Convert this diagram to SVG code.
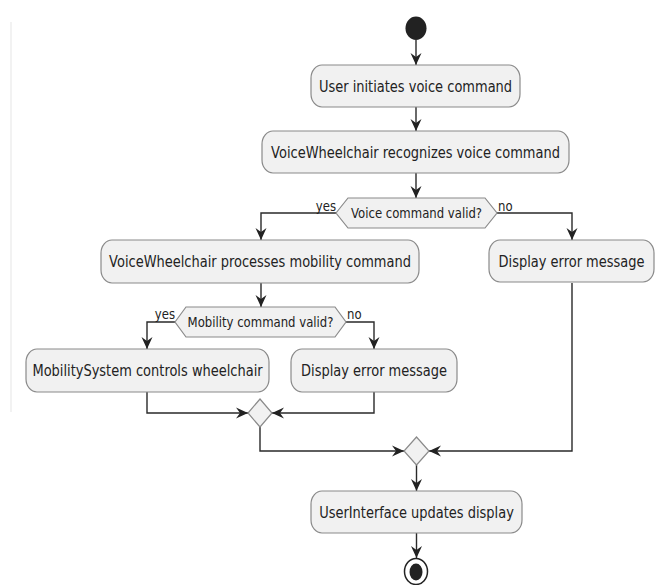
<svg xmlns="http://www.w3.org/2000/svg" width="663" height="585" viewBox="0 0 663 585">
<defs>
<style>
.box{fill:#f1f1f1;stroke:#8a8a8a;stroke-width:1.2}
.dia{fill:#f1f1f1;stroke:#8a8a8a;stroke-width:1.2}
.ln{fill:none;stroke:#2a2a2a;stroke-width:1.4}
.t{font-family:"DejaVu Sans","Liberation Sans",sans-serif;font-size:13px;fill:#222;text-anchor:middle}
.td{font-family:"DejaVu Sans","Liberation Sans",sans-serif;font-size:11.7px;fill:#222;text-anchor:middle}
.lab{font-family:"DejaVu Sans","Liberation Sans",sans-serif;font-size:11.7px;fill:#222}
</style>
<marker id="ah" markerUnits="userSpaceOnUse" markerWidth="14" markerHeight="14" viewBox="-13 -7 14 14" refX="0" refY="0" orient="auto">
<path d="M0,0 L-12,-5.5 L-8,0 L-12,5.5 Z" fill="#222"/>
</marker>
</defs>
<rect width="663" height="585" fill="#fff"/>
<line x1="11" y1="22" x2="11" y2="412" stroke="#f2f2f2" stroke-width="2"/>

<g id="connectors">
<path class="ln" d="M416,40 V65" marker-end="url(#ah)"/>
<path class="ln" d="M416,107 V131" marker-end="url(#ah)"/>
<path class="ln" d="M416,173 V198" marker-end="url(#ah)"/>
<path class="ln" d="M336,213 H261 V240" marker-end="url(#ah)"/>
<path class="ln" d="M497,213 H572 V240" marker-end="url(#ah)"/>
<path class="ln" d="M261,283 V307" marker-end="url(#ah)"/>
<path class="ln" d="M175,322 H147 V349" marker-end="url(#ah)"/>
<path class="ln" d="M346,322 H374 V349" marker-end="url(#ah)"/>
<path class="ln" d="M147,392 V413 H248" marker-end="url(#ah)"/>
<path class="ln" d="M374,392 V413 H272" marker-end="url(#ah)"/>
<path class="ln" d="M260,427 V451 H404" marker-end="url(#ah)"/>
<path class="ln" d="M572,283 V451 H429" marker-end="url(#ah)"/>
<path class="ln" d="M416.5,465 V491" marker-end="url(#ah)"/>
<path class="ln" d="M416.5,533 V558" marker-end="url(#ah)"/>
</g>

<g id="start"><ellipse cx="416" cy="28.3" rx="10.5" ry="11.7" fill="#222"/></g>

<g id="n1">
<rect class="box" x="311" y="65" width="209" height="42" rx="11" ry="13"/>
<text class="t" transform="translate(415.5 86) scale(1 1.2)" y="4.6">User initiates voice command</text>
</g>
<g id="n2">
<rect class="box" x="262" y="131" width="307" height="42" rx="11" ry="13"/>
<text class="t" transform="translate(415.5 152) scale(1 1.2)" y="4.6">VoiceWheelchair recognizes voice command</text>
</g>
<g id="d1">
<polygon class="dia" points="336,213 348,198 485,198 497,213 485,228 348,228"/>
<text class="td" transform="translate(416.5 213) scale(1 1.2)" y="4.2">Voice command valid?</text>
<text class="lab" text-anchor="end" transform="translate(336 211) scale(1 1.2)">yes</text>
<text class="lab" transform="translate(498 211) scale(1 1.2)">no</text>
</g>
<g id="n3">
<rect class="box" x="101" y="240" width="318" height="43" rx="11" ry="13"/>
<text class="t" transform="translate(260 261.5) scale(1 1.2)" y="4.6">VoiceWheelchair processes mobility command</text>
</g>
<g id="n_err1">
<rect class="box" x="489" y="240" width="165" height="42" rx="11" ry="13"/>
<text class="t" transform="translate(571.5 261.5) scale(1 1.2)" y="4.6">Display error message</text>
</g>
<g id="d2">
<polygon class="dia" points="175,322 186,307 335,307 346,322 335,337 186,337"/>
<text class="td" transform="translate(260.5 322) scale(1 1.2)" y="4.2">Mobility command valid?</text>
<text class="lab" text-anchor="end" transform="translate(175 318.5) scale(1 1.2)">yes</text>
<text class="lab" transform="translate(347 318.5) scale(1 1.2)">no</text>
</g>
<g id="n4">
<rect class="box" x="26" y="349" width="243" height="43" rx="11" ry="13"/>
<text class="t" transform="translate(147.5 370.5) scale(1 1.2)" y="4.6">MobilitySystem controls wheelchair</text>
</g>
<g id="n_err2">
<rect class="box" x="291" y="349" width="166" height="43" rx="11" ry="13"/>
<text class="t" transform="translate(374 370.5) scale(1 1.2)" y="4.6">Display error message</text>
</g>
<g id="m1"><polygon class="dia" points="260,399 272,413 260,427 248,413"/></g>
<g id="m2"><polygon class="dia" points="416.5,437 429,451 416.5,465 404,451"/></g>
<g id="n5">
<rect class="box" x="311" y="491" width="211" height="42" rx="11" ry="13"/>
<text class="t" transform="translate(416.5 512) scale(1 1.2)" y="4.6">UserInterface updates display</text>
</g>
<g id="end">
<ellipse cx="416" cy="571.5" rx="11.5" ry="13" fill="#fff" stroke="#222" stroke-width="1.5"/>
<ellipse cx="416" cy="572" rx="6.5" ry="8.5" fill="#222"/>
</g>
</svg>
